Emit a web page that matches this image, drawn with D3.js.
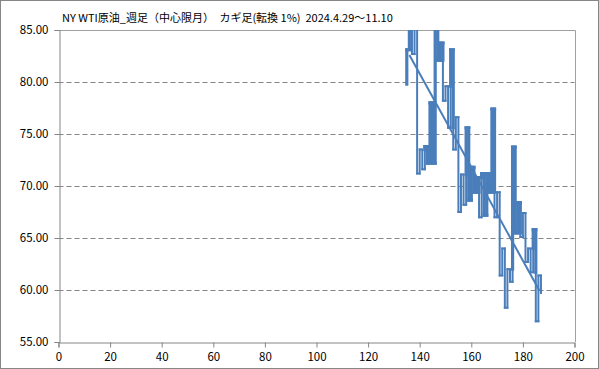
<!DOCTYPE html>
<html>
<head>
<meta charset="utf-8">
<script src="https://cdn.jsdelivr.net/npm/d3@7"></script>
<style>
	html, body { margin: 0; padding: 0; background: #fff; }
	#chart { width: 599px; height: 369px; }
	text { font-family: "Noto Sans CJK JP", "Noto Sans", sans-serif; fill: #000; }
</style>
</head>
<body>
<div id="chart"></div>
<script>
const title = "NY WTI原油_週足（中心限月）　カギ足(転換 1%)  2024.4.29～11.10";

// kagi: first column on the x axis, starting price, then one turning price per column
const kagiStartX = 135;
const kagiStartPrice = 79.8;
const kagiTurns = [
	83.1, 86.2, 82.7, 86.2, 71.2, 73.5, 71.6, 73.8, 72.2, 78.0,
	72.2, 86.2, 82.1, 83.75, 78.2, 79.6, 75.6, 83.1, 73.5, 76.6,
	67.5, 71.1, 68.2, 75.6, 68.65, 71.8, 69.4, 70.8, 67.0, 71.2,
	67.2, 71.2, 69.4, 77.4, 67.0, 69.4, 61.4, 64.0, 58.3, 62.0,
	60.8, 73.75, 65.5, 68.4, 65.1, 67.4, 62.7, 64.0, 61.7, 65.8,
	57.0, 61.4, 59.7
];

// linear trend line end points
const trendX = [136, 186.5];
const trendY = [82.6, 59.9];

const xTicks = [0, 20, 40, 60, 80, 100, 120, 140, 160, 180, 200];
const yTicks = [55, 60, 65, 70, 75, 80, 85];

let
	width = 599,
	height = 369,
	margin = {top: 30, right: 24.5, bottom: 27, left: 58.5},
	x = d3.scaleLinear([0, 200], [margin.left, width - margin.right]),
	y = d3.scaleLinear([55, 85], [height - margin.bottom, margin.top]),
	blue = "#4a7ebb",
	svg = d3.select("#chart")
		.append("svg")
		.attr("width", width)
		.attr("height", height)

svg.append("rect")
	.attr("x", 0.5).attr("y", 0.5)
	.attr("width", width - 1).attr("height", height - 1)
	.attr("fill", "#fff")
	.attr("stroke", "#868686")

svg.append("defs").append("clipPath")
	.attr("id", "plot")
	.append("rect")
	.attr("x", x(0)).attr("y", y(85))
	.attr("width", x(200) - x(0)).attr("height", y(55) - y(85))

// dashed grid
svg.append("g")
	.selectAll("line")
	.data(yTicks.filter(d => d > 55 && d < 85))
	.join("line")
	.attr("x1", x(0)).attr("x2", x(200))
	.attr("y1", d => Math.round(y(d)) + 0.5).attr("y2", d => Math.round(y(d)) + 0.5)
	.attr("stroke", "#868686")
	.attr("stroke-dasharray", "5,3")

// plot border top / right
svg.append("path")
	.attr("d", `M${x(0)},${Math.round(y(85)) + 0.5}H${Math.round(x(200)) + 0.5}V${y(55)}`)
	.attr("fill", "none")
	.attr("stroke", "#a0a0a0")

// axes
let yAxis = svg.append("g")
	.attr("transform", `translate(${Math.round(x(0)) + 0.5},0)`)
	.call(d3.axisLeft(y).tickValues(yTicks).tickFormat(d3.format(".2f")).tickSizeOuter(0).tickSize(5).tickPadding(6))
let xAxis = svg.append("g")
	.attr("transform", `translate(0,${Math.round(y(55)) + 0.5})`)
	.call(d3.axisBottom(x).tickValues(xTicks).tickSizeOuter(0).tickSize(5).tickPadding(5))

for (const g of [xAxis, yAxis]) {
	g.selectAll(".domain, line").attr("stroke", "#868686")
	g.selectAll("text")
		.attr("font-size", 11.5)
		.attr("font-family", "\"Noto Sans CJK JP\", sans-serif")
		.attr("fill", "#000")
}

// build kagi segments, thick (yang) above the previous shoulder, thin (yin) below the previous waist
let segments = []
{
	let prev = kagiStartPrice,
		yang = kagiTurns[0] > prev,
		shoulder = -Infinity,
		waist = Infinity
	kagiTurns.forEach((p, i) => {
		let cx = kagiStartX + i
		let up = p > prev
		let level = up ? shoulder : waist
		let flips = up ? (!yang && p > level) : (yang && p < level)
		if (flips && level > Math.min(prev, p) && level < Math.max(prev, p)) {
			segments.push({x1: cx, y1: prev, x2: cx, y2: level, thick: yang})
			yang = !yang
			segments.push({x1: cx, y1: level, x2: cx, y2: p, thick: yang})
		} else {
			if (flips) yang = !yang
			segments.push({x1: cx, y1: prev, x2: cx, y2: p, thick: yang})
		}
		if (i < kagiTurns.length - 1) {
			segments.push({x1: cx, y1: p, x2: cx + 1, y2: p, thick: yang})
			if (up) shoulder = p
			else waist = p
		}
		prev = p
	})
}

let kagi = svg.append("g")
	.attr("clip-path", "url(#plot)")

kagi.selectAll("line")
	.data(segments)
	.join("line")
	.attr("x1", d => x(d.x1)).attr("y1", d => y(d.y1))
	.attr("x2", d => x(d.x2)).attr("y2", d => y(d.y2))
	.attr("stroke", blue)
	.attr("stroke-width", d => d.thick ? 3.2 : 2)
	.attr("stroke-linecap", "square")

kagi.append("line")
	.attr("x1", x(trendX[0])).attr("y1", y(trendY[0]))
	.attr("x2", x(trendX[1])).attr("y2", y(trendY[1]))
	.attr("stroke", blue)
	.attr("stroke-width", 2)

svg.append("text")
	.attr("x", 62)
	.attr("y", 22)
	.attr("font-size", 11)
	.style("white-space", "pre")
	.text(title)
</script>
</body>
</html>
